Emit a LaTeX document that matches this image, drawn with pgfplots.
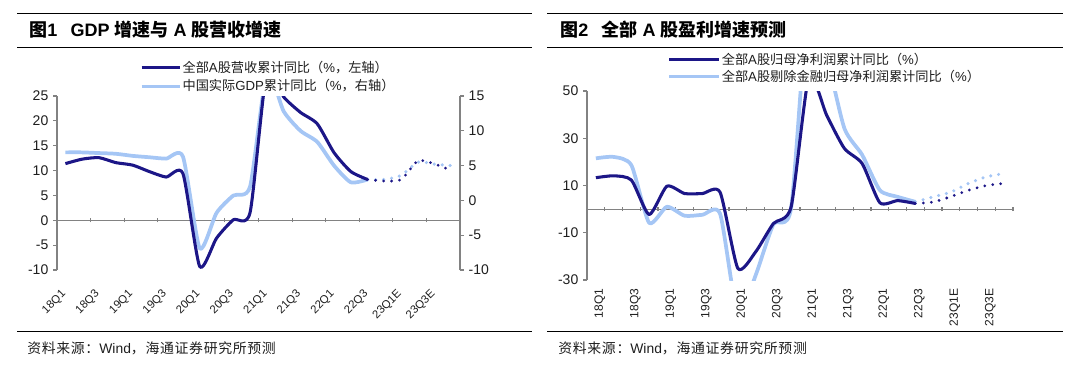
\documentclass[border=0pt]{standalone}
\usepackage{pgfplots}
\pgfplotsset{compat=1.18}
\usepackage{fontspec}
\setmainfont{Liberation Sans}
\newfontfamily\cjk{Noto Sans CJK SC}
\newfontfamily\cjks{Noto Sans CJK SC}[LetterSpace=5]
\newcommand{\zh}[1]{{\cjk #1}}
\newcommand{\zhs}[1]{{\cjks #1}}
\newcommand{\fs}[1]{\fontsize{#1}{#1}\selectfont}
\definecolor{dark}{RGB}{28,22,135}
\definecolor{light}{RGB}{165,198,245}
\definecolor{axg}{RGB}{130,130,130}
\definecolor{txt}{RGB}{30,30,30}
\pgfplotsset{
  base/.style={scale only axis, anchor=south west, xmin=-0.5, xmax=23.5,
    /pgf/number format/assume math mode=true,
    tick label style={font=\fs{10.5}, text=txt},
    axis line style={axg, line width=0.8pt},
    tick style={axg, line width=0.8pt},
    major tick length=3pt, tick align=outside},
  darkline/.style={dark, line width=2.3pt, smooth, tension=0.38, line join=round},
  lightline/.style={light, line width=2.8pt, smooth, tension=0.38, line join=round},
  darkdot/.style={dark, line width=2.3pt, smooth, tension=0.38, line cap=round, dash pattern=on 0pt off 6pt},
  lightdot/.style={light, line width=2.6pt, smooth, tension=0.38, line cap=round, dash pattern=on 0pt off 6pt},
}
\begin{document}
\begin{tikzpicture}
\useasboundingbox (0,0) rectangle (810pt,273.75pt);
% ---------- rules, titles, sources ----------
\draw[black, line width=0.9pt] (12.75pt,263.8pt) -- (399pt,263.8pt);
\draw[black, line width=0.9pt] (12.75pt,238.3pt) -- (399pt,238.3pt);
\draw[black, line width=0.9pt] (12.75pt,25pt) -- (399pt,25pt);
\draw[black, line width=0.9pt] (410.25pt,263.8pt) -- (797.25pt,263.8pt);
\draw[black, line width=0.9pt] (410.25pt,238.3pt) -- (797.25pt,238.3pt);
\draw[black, line width=0.9pt] (410.25pt,25pt) -- (797.25pt,25pt);
\node[anchor=west, font=\bfseries\fs{13.5}, inner sep=0pt] at (21.75pt,251.25pt) {\zh{图}1\hspace{10pt}GDP \zh{增速与} A \zh{股营收增速}};
\node[anchor=west, font=\bfseries\fs{13.5}, inner sep=0pt] at (420pt,251.25pt) {\zh{图}2\hspace{10pt}\zh{全部} A \zh{股盈利增速预测}};
\node[anchor=west, font=\fs{10.4}, text=txt, inner sep=0pt] at (20.25pt,12.75pt) {\zhs{资料来源：}Wind\zhs{，海通证券研究所预测}};
\node[anchor=west, font=\fs{10.4}, text=txt, inner sep=0pt] at (418.5pt,12.75pt) {\zhs{资料来源：}Wind\zhs{，海通证券研究所预测}};

% ---------- left chart: zero line ----------
\begin{axis}[base, at={(42.75pt,71.25pt)}, width=302.25pt, height=130.5pt,
  ymin=-10, ymax=25, axis x line=middle, axis y line=none,
  x axis line style={-, axg, line width=0.8pt},
  xtick={-0.5,1.5,...,23.5}, xticklabels={}, ytick=\empty]
\end{axis}
% ---------- left chart: GDP (right axis) ----------
\begin{axis}[base, at={(42.75pt,71.25pt)}, width=302.25pt, height=130.5pt,
  ymin=-10, ymax=15, ytick={-10,-5,...,15},
  axis y line*=right, axis x line=none]
\addplot[lightline] coordinates {(0,6.9) (1,6.9) (2,6.8) (3,6.7) (4,6.4) (5,6.2) (6,6.0) (7,6.3) (8,-6.9) (9,-1.8) (10,0.7) (11,2.0) (12,18.3) (13,12.8) (14,10.0) (15,8.4) (16,5.0) (17,2.6) (18,3.0)};
\addplot[lightdot] coordinates {(18,3.0) (19,3.0) (20,3.6) (21,5.5) (22,5.2) (23,5.0)};
\end{axis}
% ---------- left chart: revenue (left axis) ----------
\begin{axis}[base, at={(42.75pt,71.25pt)}, width=302.25pt, height=130.5pt,
  ymin=-10, ymax=25, ytick={-10,-5,...,25},
  axis y line*=left, axis x line*=bottom, x axis line style={draw=none},
  xtick={0,2,...,22}, xtick style={draw=none},
  xticklabels={18Q1,18Q3,19Q1,19Q3,20Q1,20Q3,21Q1,21Q3,22Q1,22Q3,23Q1E,23Q3E},
  xticklabel style={font=\fs{8.5}, rotate=45, anchor=east, xshift=-7pt, yshift=-9pt},
  legend style={at={(0.206,1.207)}, anchor=north west, draw=none, fill=none,
    inner sep=0pt, outer sep=0pt, row sep=3pt, font=\fs{9.9},
    nodes={inner sep=0.6pt, text=txt}},
  legend cell align=left,
  legend image code/.code={\draw[#1] (0pt,0pt) -- (29pt,0pt);}]
\addplot[darkline] coordinates {(0,11.4) (1,12.3) (2,12.6) (3,11.6) (4,11.1) (5,9.8) (6,8.7) (7,9.4) (8,-9.3) (9,-3.6) (10,0.1) (11,1.6) (12,30) (13,24.8) (14,21.7) (15,19.4) (16,13.6) (17,9.8) (18,8.2)};
\addlegendentry{\zh{全部}A\zh{股营收累计同比（}\%\zh{，左轴）}}
\addplot[darkdot, forget plot] coordinates {(18,8.2) (19,7.9) (20,8.2) (21,12.0) (22,11.3) (23,10.0)};
\addlegendimage{light, line width=2.3pt}
\addlegendentry{\zh{中国实际}GDP\zh{累计同比（}\%\zh{，右轴）}}
\end{axis}

% ---------- right chart: zero line ----------
\begin{axis}[base, at={(440.25pt,63.75pt)}, width=319.5pt, height=141.75pt,
  ymin=-30, ymax=50, axis x line=middle, axis y line=none,
  x axis line style={-, axg, line width=0.8pt},
  xtick={-0.5,0.5,...,23.5}, xticklabels={}, ytick=\empty]
\end{axis}
% ---------- right chart: profits ----------
\begin{axis}[base, at={(440.25pt,63.75pt)}, width=319.5pt, height=141.75pt,
  ymin=-30, ymax=50, ytick={-30,-10,...,50},
  axis y line*=left, axis x line*=bottom, x axis line style={draw=none},
  xtick={0,2,...,22}, xtick style={draw=none},
  xticklabels={18Q1,18Q3,19Q1,19Q3,20Q1,20Q3,21Q1,21Q3,22Q1,22Q3,23Q1E,23Q3E},
  xticklabel style={font=\fs{9}, rotate=90, anchor=east, yshift=-3pt},
  legend style={at={(0.19,1.205)}, anchor=north west, draw=none, fill=none,
    inner sep=0pt, outer sep=0pt, row sep=1.5pt, font=\fs{9.9},
    nodes={inner sep=0.6pt, text=txt}},
  legend cell align=left,
  legend image code/.code={\draw[#1] (0pt,0pt) -- (37.5pt,0pt);}]
\addplot[lightline, forget plot] coordinates {(0,21.5) (1,22.1) (2,18.6) (3,-5.8) (4,1.0) (5,-2.8) (6,-2.4) (7,-2.0) (8,-45) (9,-28) (10,-6.5) (11,0.5) (12,90) (13,65) (14,34.2) (15,23) (16,8.0) (17,5.2) (18,3.1)};
\addplot[lightdot, forget plot] coordinates {(18,3.1) (19,5.2) (20,7.2) (21,10.9) (22,13.7) (23,15.1)};
\addplot[darkline] coordinates {(0,13.3) (1,14.1) (2,12.3) (3,-2.3) (4,9.7) (5,6.6) (6,6.6) (7,7.1) (8,-25.1) (9,-18.1) (10,-6.1) (11,1.0) (12,56) (13,39.8) (14,25.7) (15,19.3) (16,2.7) (17,3.6) (18,2.4)};
\addlegendentry{\zh{全部}A\zh{股归母净利润累计同比（}\%\zh{）}}
\addplot[darkdot, forget plot] coordinates {(18,2.4) (19,3.0) (20,5.3) (21,8.0) (22,10.0) (23,10.9)};
\addlegendimage{light, line width=2.3pt}
\addlegendentry{\zh{全部}A\zh{股剔除金融归母净利润累计同比（}\%\zh{）}}
\end{axis}
\end{tikzpicture}
\end{document}
